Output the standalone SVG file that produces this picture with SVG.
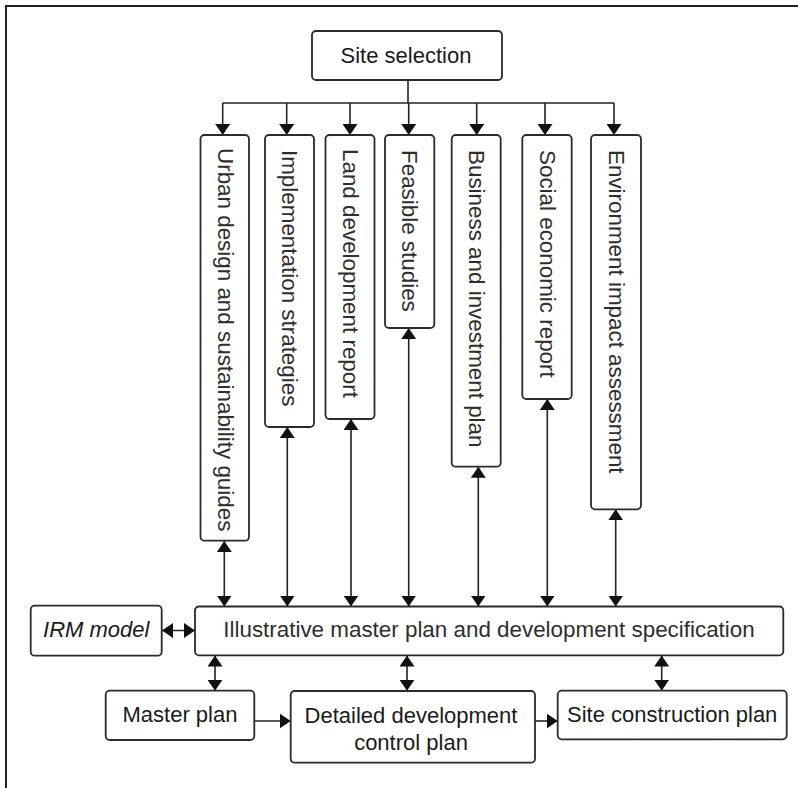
<svg xmlns="http://www.w3.org/2000/svg" width="798" height="788" viewBox="0 0 798 788">
<style>
  .box { fill: #fff; stroke: #2b2b2b; stroke-width: 1.8; }
  .t { font-family: "Liberation Sans", Arial, Helvetica, sans-serif; font-size: 22px; fill: #1a1a1a; }
  .tl { font-family: "Liberation Sans", Arial, Helvetica, sans-serif; font-size: 22.4px; fill: #2e2e2e; }
  .c { text-anchor: middle; }
  .v { text-anchor: start; dominant-baseline: central; }
  .ln { fill: none; stroke: #222; stroke-width: 1.6; }
</style>
<defs>
  <marker id="ah" viewBox="0 0 11 15" refX="11" refY="7.5" markerWidth="11" markerHeight="15" markerUnits="userSpaceOnUse" orient="auto-start-reverse">
    <path d="M0,0 L11,7.5 L0,15 z" fill="#111"/>
  </marker>
</defs>
<rect x="0" y="0" width="798" height="788" fill="#fff"/>
<path d="M6,788 V6 H798" fill="none" stroke="#222" stroke-width="2"/>

<g id="connectors">
  <path class="ln" d="M408,80 V103"/>
  <path class="ln" d="M222.7,103 H614"/>
  <path class="ln" d="M222.7,103 V135" marker-end="url(#ah)"/>
  <path class="ln" d="M286.7,103 V135" marker-end="url(#ah)"/>
  <path class="ln" d="M350,103 V135" marker-end="url(#ah)"/>
  <path class="ln" d="M408.7,103 V135" marker-end="url(#ah)"/>
  <path class="ln" d="M476.7,103 V135" marker-end="url(#ah)"/>
  <path class="ln" d="M545,103 V135" marker-end="url(#ah)"/>
  <path class="ln" d="M614,103 V135" marker-end="url(#ah)"/>

  <path class="ln" d="M224.3,541 V606.5" marker-start="url(#ah)" marker-end="url(#ah)"/>
  <path class="ln" d="M287.3,427 V606.5" marker-start="url(#ah)" marker-end="url(#ah)"/>
  <path class="ln" d="M351,419 V606.5" marker-start="url(#ah)" marker-end="url(#ah)"/>
  <path class="ln" d="M408.7,328 V606.5" marker-start="url(#ah)" marker-end="url(#ah)"/>
  <path class="ln" d="M478.3,466.7 V606.5" marker-start="url(#ah)" marker-end="url(#ah)"/>
  <path class="ln" d="M547.3,399 V606.5" marker-start="url(#ah)" marker-end="url(#ah)"/>
  <path class="ln" d="M615.7,509.3 V606.5" marker-start="url(#ah)" marker-end="url(#ah)"/>

  <path class="ln" d="M162,630.5 H195" marker-start="url(#ah)" marker-end="url(#ah)"/>

  <path class="ln" d="M215,655.5 V690.7" marker-start="url(#ah)" marker-end="url(#ah)"/>
  <path class="ln" d="M407,655.5 V690.7" marker-start="url(#ah)" marker-end="url(#ah)"/>
  <path class="ln" d="M661.7,655.5 V690.7" marker-start="url(#ah)" marker-end="url(#ah)"/>

  <path class="ln" d="M254.3,721 H290.7" marker-end="url(#ah)"/>
  <path class="ln" d="M535,721 H557.7" marker-end="url(#ah)"/>
</g>

<g id="site-selection">
  <rect class="box" x="312" y="31" width="190" height="49" rx="4"/>
  <text class="t c" x="406" y="63">Site selection</text>
</g>

<g id="urban-design">
  <rect class="box" x="200.5" y="135" width="48.5" height="405.7" rx="4"/>
  <text class="tl v" transform="translate(225.5,148) rotate(90)">Urban design and sustainability guides</text>
</g>
<g id="implementation">
  <rect class="box" x="265" y="135" width="49" height="292" rx="4"/>
  <text class="tl v" transform="translate(289.5,150) rotate(90)">Implementation strategies</text>
</g>
<g id="land-development">
  <rect class="box" x="325.5" y="135" width="49" height="284" rx="4"/>
  <text class="tl v" transform="translate(350,149) rotate(90)">Land development report</text>
</g>
<g id="feasible-studies">
  <rect class="box" x="385" y="135" width="49.3" height="193" rx="4"/>
  <text class="tl v" transform="translate(409.7,150) rotate(90)">Feasible studies</text>
</g>
<g id="business-investment">
  <rect class="box" x="451.7" y="135" width="49" height="331.7" rx="4"/>
  <text class="tl v" transform="translate(476.2,150) rotate(90)">Business and investment plan</text>
</g>
<g id="social-economic">
  <rect class="box" x="522.3" y="135" width="49.4" height="264" rx="4"/>
  <text class="tl v" transform="translate(547,150) rotate(90)">Social economic report</text>
</g>
<g id="environment-impact">
  <rect class="box" x="591" y="135" width="50" height="374.3" rx="4"/>
  <text class="tl v" transform="translate(616,150) rotate(90)">Environment impact assessment</text>
</g>

<g id="irm-model">
  <rect class="box" x="30.7" y="605.7" width="131" height="50" rx="4"/>
  <text class="t c" x="96.2" y="637" font-style="italic">IRM model</text>
</g>
<g id="illustrative-master-plan">
  <rect class="box" x="195" y="606.5" width="588.3" height="48.8" rx="4"/>
  <text class="tl c" x="489" y="637" font-size="22.6">Illustrative master plan and development specification</text>
</g>

<g id="master-plan">
  <rect class="box" x="105.7" y="690.7" width="148.6" height="49.3" rx="4"/>
  <text class="t c" x="180" y="722">Master plan</text>
</g>
<g id="detailed-development">
  <rect class="box" x="290.7" y="691" width="244.3" height="71.7" rx="4"/>
  <text class="t c" x="411" y="722.5">Detailed development</text>
  <text class="t c" x="411" y="749.5">control plan</text>
</g>
<g id="site-construction">
  <rect class="box" x="557.7" y="690.7" width="229" height="48.6" rx="4"/>
  <text class="t c" x="672.2" y="722">Site construction plan</text>
</g>
</svg>
